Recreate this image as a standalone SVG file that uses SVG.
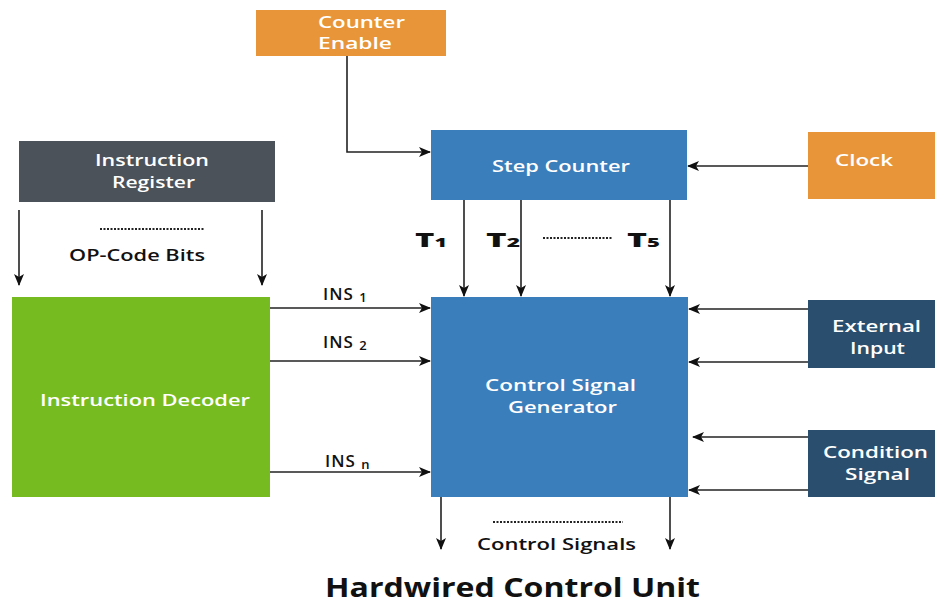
<svg xmlns="http://www.w3.org/2000/svg" width="935" height="606" viewBox="0 0 935 606">
<defs>
<marker id="ah" viewBox="0 0 12 10" refX="11" refY="5" markerWidth="12" markerHeight="10" markerUnits="userSpaceOnUse" orient="auto">
<path d="M0,0 L12,5 L0,10 L3,5 Z" fill="#111"/>
</marker>
<style>
.wt{font-family:"Open Sans","Liberation Sans",sans-serif;font-size:17px;font-weight:600;fill:#fff}
.bt{font-family:"Open Sans","Liberation Sans",sans-serif;font-size:17px;fill:#111;font-weight:600}
.tt{font-family:"Open Sans","Liberation Sans",sans-serif;font-size:20px;fill:#111;font-weight:800}
.sub{font-size:13px}
.c{stroke:#222;stroke-width:1.6;fill:none;marker-end:url(#ah)}
.dot{stroke:#222;stroke-width:2;stroke-dasharray:2 1.5;fill:none}
</style>
</defs>
<rect width="935" height="606" fill="#fff"/>
<g id="counter-enable"><rect x="256" y="10" width="190" height="46" fill="#e8953a"/><text class="wt" x="318" y="28" textLength="87" lengthAdjust="spacingAndGlyphs">Counter</text><text class="wt" x="318" y="49" textLength="74" lengthAdjust="spacingAndGlyphs">Enable</text></g>
<g id="step-counter"><rect x="431" y="130" width="256" height="70" fill="#3a7ebb"/><text class="wt" x="492" y="172" textLength="138" lengthAdjust="spacingAndGlyphs">Step Counter</text></g>
<g id="clock"><rect x="808" y="132" width="127" height="67" fill="#e8953a"/><text class="wt" x="835" y="166" textLength="58" lengthAdjust="spacingAndGlyphs">Clock</text></g>
<g id="instruction-register"><rect x="19" y="141" width="256" height="61" fill="#4b5259"/><text class="wt" x="95" y="166" textLength="114" lengthAdjust="spacingAndGlyphs">Instruction</text><text class="wt" x="112" y="188" textLength="83" lengthAdjust="spacingAndGlyphs">Register</text></g>
<g id="instruction-decoder"><rect x="12" y="297" width="258" height="200" fill="#76bc21"/><text class="wt" x="40" y="406" textLength="210" lengthAdjust="spacingAndGlyphs">Instruction Decoder</text></g>
<g id="control-signal-generator"><rect x="431" y="297" width="257" height="200" fill="#3a7ebb"/><text class="wt" x="485" y="391" textLength="151" lengthAdjust="spacingAndGlyphs">Control Signal</text><text class="wt" x="508" y="413" textLength="109" lengthAdjust="spacingAndGlyphs">Generator</text></g>
<g id="external-input"><rect x="808" y="300" width="127" height="68" fill="#2a4f6e"/><text class="wt" x="832" y="332" textLength="89" lengthAdjust="spacingAndGlyphs">External</text><text class="wt" x="850" y="354" textLength="55" lengthAdjust="spacingAndGlyphs">Input</text></g>
<g id="condition-signal"><rect x="808" y="430" width="127" height="67" fill="#2a4f6e"/><text class="wt" x="823" y="458" textLength="105" lengthAdjust="spacingAndGlyphs">Condition</text><text class="wt" x="845" y="480" textLength="65" lengthAdjust="spacingAndGlyphs">Signal</text></g>
<g id="connectors">
<path class="c" d="M347,56 V152 H430"/>
<path class="c" d="M808,166 H688"/>
<path class="c" d="M19,210 V285"/>
<path class="c" d="M262,210 V285"/>
<path class="c" d="M464,200 V296"/>
<path class="c" d="M521,200 V296"/>
<path class="c" d="M670,200 V296"/>
<path class="c" d="M270,308 H430"/>
<path class="c" d="M270,361 H430"/>
<path class="c" d="M270,472 H430"/>
<path class="c" d="M808,309 H689"/>
<path class="c" d="M808,362 H689"/>
<path class="c" d="M808,437 H693"/>
<path class="c" d="M808,490 H689"/>
<path class="c" d="M441,497 V549"/>
<path class="c" d="M670,497 V549"/>
</g>
<g id="labels">
<path class="dot" d="M100,229 H205"/>
<text class="bt" x="69" y="261" textLength="136" lengthAdjust="spacingAndGlyphs">OP-Code Bits</text>
<text class="tt" x="415" y="247" textLength="32" lengthAdjust="spacingAndGlyphs">T<tspan class="sub">1</tspan></text>
<text class="tt" x="486" y="247" textLength="34" lengthAdjust="spacingAndGlyphs">T<tspan class="sub">2</tspan></text>
<path class="dot" d="M543,238 H612"/>
<text class="tt" x="627" y="247" textLength="33" lengthAdjust="spacingAndGlyphs">T<tspan class="sub">5</tspan></text>
<text class="bt" x="323" y="300" letter-spacing="1">INS <tspan class="sub" dy="2">1</tspan></text>
<text class="bt" x="323" y="348" letter-spacing="1">INS <tspan class="sub" dy="2">2</tspan></text>
<text class="bt" x="325" y="467" letter-spacing="1">INS <tspan class="sub" dy="2">n</tspan></text>
<path class="dot" d="M493,522 H623"/>
<text class="bt" x="477" y="550" textLength="159" lengthAdjust="spacingAndGlyphs">Control Signals</text>
<text x="325" y="597" textLength="375" lengthAdjust="spacingAndGlyphs" font-family="Open Sans, Liberation Sans, sans-serif" font-size="27" font-weight="700" fill="#111">Hardwired Control Unit</text>
</g>
</svg>
